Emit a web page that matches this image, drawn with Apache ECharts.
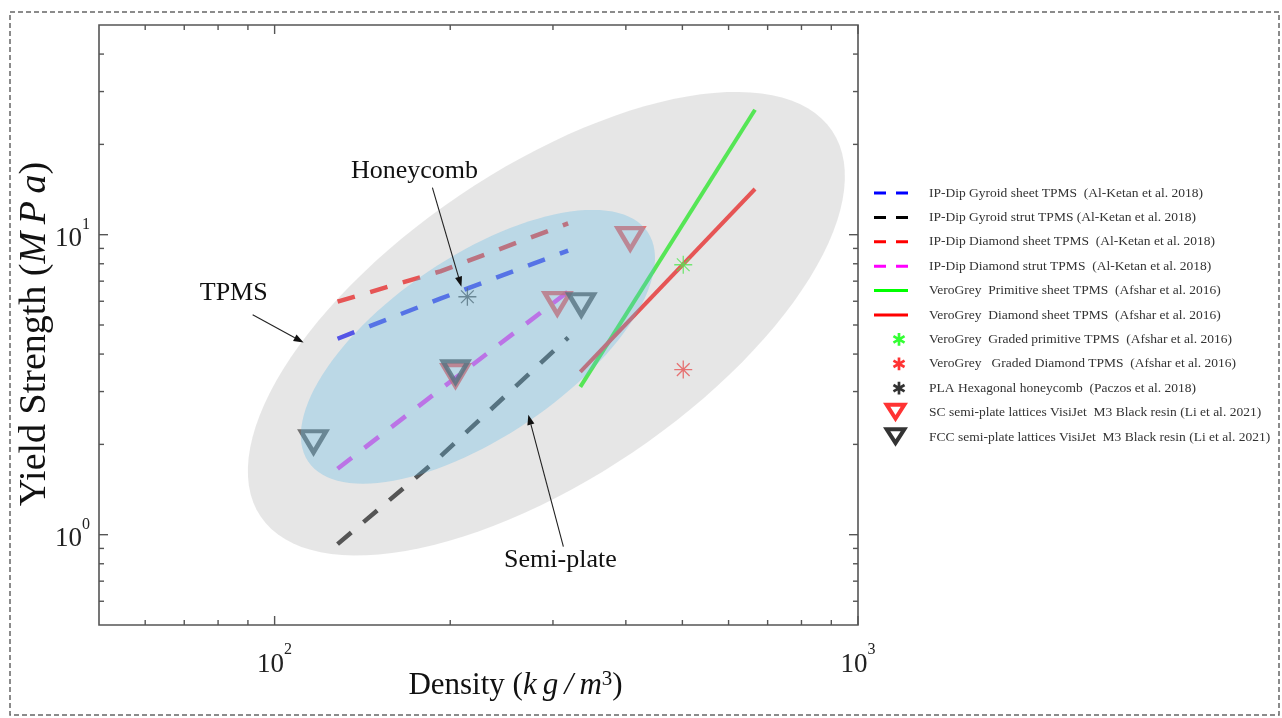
<!DOCTYPE html>
<html>
<head>
<meta charset="utf-8">
<script src="https://cdn.jsdelivr.net/npm/echarts@6/dist/echarts.min.js"></script>
<style>
  html, body { margin: 0; padding: 0; background: #ffffff; }
  #chart { width: 1282px; height: 718px; }
</style>
</head>
<body>
<div id="chart"></div>
<script>
// ---- Axis ticks (log-log) ----
const xMajorTicks = [100, 1000];
const xMinorTicks = [60, 70, 80, 90, 200, 300, 400, 500, 600, 700, 800, 900];
const yMajorTicks = [1, 10];
const yMinorTicks = [0.6, 0.7, 0.8, 0.9, 2, 3, 4, 5, 6, 7, 8, 9, 20, 30, 40];
const xLabelExponents = [2, 3];
const yLabelExponents = [0, 1];

// ---- Series names ----
const seriesNames = [
  'IP-Dip Gyroid sheet TPMS  (Al-Ketan et al. 2018)',
  'IP-Dip Gyroid strut TPMS (Al-Ketan et al. 2018)',
  'IP-Dip Diamond sheet TPMS  (Al-Ketan et al. 2018)',
  'IP-Dip Diamond strut TPMS  (Al-Ketan et al. 2018)',
  'VeroGrey  Primitive sheet TPMS  (Afshar et al. 2016)',
  'VeroGrey  Diamond sheet TPMS  (Afshar et al. 2016)',
  'VeroGrey  Graded primitive TPMS  (Afshar et al. 2016)',
  'VeroGrey   Graded Diamond TPMS  (Afshar et al. 2016)',
  'PLA Hexagonal honeycomb  (Paczos et al. 2018)',
  'SC semi-plate lattices VisiJet  M3 Black resin (Li et al. 2021)',
  'FCC semi-plate lattices VisiJet  M3 Black resin (Li et al. 2021)'
];

// ---- Data: [density kg/m^3, yield strength MPa] ----
const gyroidSheet   = [[128.2, 4.50], [192.3, 6.12], [318.5, 8.85]];
const gyroidStrut   = [[128.2, 0.93], [188.0, 1.75], [318.5, 4.54]];
const diamondSheet  = [[128.2, 5.98], [192.3, 7.55], [318.5, 10.9]];
const diamondStrut  = [[128.2, 1.66], [192.3, 3.05], [318.5, 6.46]];
const primitiveSheetVG = [[334.2, 3.11], [666.0, 26.1]];
const diamondSheetVG   = [[334.2, 3.49], [666.0, 14.2]];
const gradedPrimitive  = [[501.7, 7.94]];
const gradedDiamond    = [[501.7, 3.55]];
const plaHoneycomb     = [[214.0, 6.21]];
const scSemiPlate      = [[204.2, 3.39], [305.2, 5.89], [407.0, 9.70]];
const fccSemiPlate     = [[116.6, 2.04], [204.2, 3.49], [335.5, 5.84]];

// ---- Shaded regions: centre, end of long semi-axis, end of short semi-axis ----
const tpmsRegion      = [292.3, 5.05, 902.7, 22.2, 207.7, 13.54];
const semiPlateRegion = [223.1, 4.23, 436.0, 10.2, 182.9, 7.51];

// ---- Annotations ----
const annotationTexts     = ['Honeycomb', 'TPMS', 'Semi-plate'];
const annotationLabelPos  = [[173.7, 16.34], [85.1, 6.36], [308.9, 0.825]];
const annotationArrowFrom = [[186.4, 14.35], [91.7, 5.41], [312.6, 0.912]];
const annotationArrowTo   = [[209.0, 6.71], [112.1, 4.37], [272.2, 2.51]];

// ---- Styles ----
const FONT = 'Liberation Serif';
const AXIS_COLOR = '#555555';
const DASH = [18, 16];
const REGION_FILLS = ['rgba(197,197,197,0.43)', 'rgba(90,185,228,0.31)'];
const THIN = '\u2009';

// legend icons: every bounding box is 34 x 20 so all rows share one height
const dashIcon  = 'path://M0,-8.5M34,11.5M0,0L12,0L12,3L0,3ZM22,0L34,0L34,3L22,3Z';
const solidIcon = 'path://M0,-8.5M34,11.5M0,0L34,0L34,3L0,3Z';
function starIconPath() {
  let d = 'path://M-25,-10M9,10';
  [90, 30, -30].forEach(deg => {
    const t = deg * Math.PI / 180, dx = Math.cos(t), dy = Math.sin(t), nx = -dy, ny = dx;
    const L = 6.4, W = 1.35;
    const p = [[L * dx + W * nx, L * dy + W * ny], [L * dx - W * nx, L * dy - W * ny],
               [-L * dx - W * nx, -L * dy - W * ny], [-L * dx + W * nx, -L * dy + W * ny]];
    d += 'M' + p.map(q => q[0].toFixed(2) + ',' + q[1].toFixed(2)).join('L') + 'Z';
  });
  return d;
}
function triangleIconPath() {
  // outer triangle clockwise, inner one reversed to leave a hole
  const A = [0, 0], B = [25, 0], C = [12.5, 19.5];
  const ac = Math.hypot(12.5, 19.5);
  const s = (25 + 2 * ac) / 2, r = (25 * 19.5 / 2) / s, I = [12.5, r];
  const k = (r - 4.0) / r;
  const inner = [A, B, C].map(v => [I[0] + k * (v[0] - I[0]), I[1] + k * (v[1] - I[1])]);
  const f = q => q[0].toFixed(2) + ',' + q[1].toFixed(2);
  return 'path://M-9,-0.25M25,19.75M' + f(A) + 'L' + f(B) + 'L' + f(C) + 'Z' +
         'M' + f(inner[0]) + 'L' + f(inner[2]) + 'L' + f(inner[1]) + 'Z';
}
const starLegend = starIconPath();
const triLegend = triangleIconPath();
const triPlot   = 'path://M0,0L26,0L13,22Z';
const starPlot  = 'path://M0,-10L0,10M-10,0L10,0M-7.07,-7.07L7.07,7.07M-7.07,7.07L7.07,-7.07';

function lineSeries(name, data, color, dashed) {
  return {
    type: 'line', name, data, symbol: 'none', z: 2, silent: true,
    color,
    lineStyle: { color, width: dashed ? 4.5 : 4, type: dashed ? DASH : 'solid', cap: 'butt' }
  };
}
function starSeries(name, data, color) {
  return {
    type: 'scatter', name, data, z: 2, silent: true, color,
    symbol: starPlot, symbolSize: 18,
    itemStyle: { color, borderColor: color, borderWidth: 1.3 }
  };
}
function triangleSeries(name, data, color) {
  return {
    type: 'scatter', name, data, z: 2, silent: true, color,
    symbol: triPlot, symbolSize: [25, 21],
    itemStyle: { color: 'rgba(0,0,0,0)', borderColor: color, borderWidth: 4.5 }
  };
}

const colors = ['#0000ff', '#000000', '#ff0000', '#ff00ff', '#00ff00', '#ff0000',
                '#00ff00', '#ff0000', '#000000', '#ff0000', '#000000'];

const dataSeries = [
  lineSeries(seriesNames[0], gyroidSheet, colors[0], true),
  lineSeries(seriesNames[1], gyroidStrut, colors[1], true),
  lineSeries(seriesNames[2], diamondSheet, colors[2], true),
  lineSeries(seriesNames[3], diamondStrut, colors[3], true),
  lineSeries(seriesNames[4], primitiveSheetVG, colors[4], false),
  lineSeries(seriesNames[5], diamondSheetVG, colors[5], false),
  starSeries(seriesNames[6], gradedPrimitive, colors[6]),
  starSeries(seriesNames[7], gradedDiamond, colors[7]),
  starSeries(seriesNames[8], plaHoneycomb, colors[8]),
  triangleSeries(seriesNames[9], scSemiPlate, colors[9]),
  triangleSeries(seriesNames[10], fccSemiPlate, colors[10])
];

const legendData = seriesNames.map((name, i) => {
  const icon = i < 4 ? dashIcon : i < 6 ? solidIcon : i < 9 ? starLegend : triLegend;
  return { name, icon, itemStyle: { color: colors[i], borderWidth: 0 } };
});

function isPow10(v, exps) {
  const e = Math.log10(v);
  const r = Math.round(e);
  return Math.abs(e - r) < 1e-6 && exps.indexOf(r) >= 0 ? r : null;
}
const tickLabelRich = {
  b: { fontFamily: FONT, fontSize: 27, lineHeight: 36, verticalAlign: 'bottom', color: '#222' },
  sup: { fontFamily: FONT, fontSize: 16, lineHeight: 16, verticalAlign: 'top', color: '#222' }
};

// region ellipses, projected through the axes
function renderRegion(params, api) {
  const c = api.coord([api.value(0), api.value(1)]);
  const m = api.coord([api.value(2), api.value(3)]);
  const n = api.coord([api.value(4), api.value(5)]);
  const u = [m[0] - c[0], m[1] - c[1]];
  const v = [n[0] - c[0], n[1] - c[1]];
  const pts = [];
  for (let k = 0; k < 120; k++) {
    const t = k / 120 * Math.PI * 2;
    const ct = Math.cos(t), st = Math.sin(t);
    pts.push([c[0] + u[0] * ct + v[0] * st, c[1] + u[1] * ct + v[1] * st]);
  }
  return { type: 'polygon', shape: { points: pts }, style: { fill: REGION_FILLS[params.dataIndex] } };
}

// box ticks on all four sides, pointing inward
function renderTicks(params, api) {
  const cs = params.coordSys;
  const L = cs.x, T = cs.y, R = cs.x + cs.width, B = cs.y + cs.height;
  const kids = [];
  const seg = (x1, y1, x2, y2) => kids.push({ type: 'line', shape: { x1, y1, x2, y2 }, style: { stroke: AXIS_COLOR, lineWidth: 1.4 } });
  const xt = (val, len) => { const x = api.coord([val, 1])[0]; seg(x, B, x, B - len); seg(x, T, x, T + len); };
  const yt = (val, len) => { const y = api.coord([100, val])[1]; seg(L, y, L + len, y); seg(R, y, R - len, y); };
  xMajorTicks.forEach(v => xt(v, 9));
  xMinorTicks.forEach(v => xt(v, 5));
  yMajorTicks.forEach(v => yt(v, 9));
  yMinorTicks.forEach(v => yt(v, 5));
  return { type: 'group', children: kids };
}

// text labels with arrows
function renderAnnotation(params, api) {
  const i = params.dataIndex;
  const p = api.coord(annotationLabelPos[i]);
  const a = api.coord(annotationArrowFrom[i]);
  const b = api.coord(annotationArrowTo[i]);
  const dx = b[0] - a[0], dy = b[1] - a[1];
  const len = Math.hypot(dx, dy), ux = dx / len, uy = dy / len;
  const hl = 10, hw = 3.6;
  const base = [b[0] - ux * hl, b[1] - uy * hl];
  return {
    type: 'group',
    children: [
      { type: 'text', style: { text: annotationTexts[i], x: p[0], y: p[1], fill: '#111', fontSize: 26, fontFamily: FONT, align: 'center', verticalAlign: 'middle' } },
      { type: 'line', shape: { x1: a[0], y1: a[1], x2: base[0], y2: base[1] }, style: { stroke: '#222', lineWidth: 1.1 } },
      { type: 'polygon', shape: { points: [b, [base[0] - uy * hw, base[1] + ux * hw], [base[0] + uy * hw, base[1] - ux * hw]] }, style: { fill: '#111' } }
    ]
  };
}

const option = {
  animation: false,
  backgroundColor: '#ffffff',
  graphic: [{
    type: 'rect', silent: true, z: -10,
    shape: { x: 10, y: 12, width: 1269, height: 703 },
    style: { fill: 'none', stroke: '#666', lineWidth: 1.5, lineDash: [5, 3] }
  }],
  grid: {
    left: 99, top: 25, width: 759, height: 600,
    outerBoundsMode: 'none', containLabel: false,
    show: true, borderColor: AXIS_COLOR, borderWidth: 1.6, backgroundColor: 'transparent'
  },
  legend: {
    orient: 'vertical', left: 874, top: 183, padding: 0,
    itemWidth: 34, itemHeight: 20, itemGap: 4.4,
    selectedMode: false,
    textStyle: { fontFamily: FONT, fontSize: 13.5, color: '#333', padding: [0, 0, 0, 16] },
    data: legendData
  },
  xAxis: {
    type: 'log', logBase: 10, min: 50, max: 1000,
    axisLine: { show: false }, axisTick: { show: false }, splitLine: { show: false }, minorTick: { show: false },
    axisLabel: {
      margin: 17, showMinLabel: true, showMaxLabel: true,
      formatter: v => { const r = isPow10(v, xLabelExponents); return r === null ? '' : '{b|10}{sup|' + r + '}'; },
      rich: tickLabelRich
    },
    name: 'Density ({it|k' + THIN + 'g' + THIN + '/' + THIN + 'm}{sup|3})', nameLocation: 'middle', nameGap: 44,
    nameMoveOverlap: false,
    nameTextStyle: {
      fontFamily: FONT, fontSize: 31, lineHeight: 34, color: '#111', padding: [0, 0, 0, 74],
      rich: {
        it: { fontFamily: FONT, fontStyle: 'italic', fontSize: 31, lineHeight: 34, color: '#111' },
        sup: { fontFamily: FONT, fontSize: 21, lineHeight: 21, verticalAlign: 'top', color: '#111' }
      }
    }
  },
  yAxis: {
    type: 'log', logBase: 10, min: 0.5, max: 50,
    axisLine: { show: false }, axisTick: { show: false }, splitLine: { show: false }, minorTick: { show: false },
    axisLabel: {
      margin: 9, showMinLabel: true, showMaxLabel: true,
      formatter: v => { const r = isPow10(v, yLabelExponents); return r === null ? '' : '{b|10}{sup|' + r + '}'; },
      rich: tickLabelRich
    },
    name: 'Yield Strength ({it|M' + THIN + 'P' + THIN + 'a})', nameLocation: 'middle', nameGap: 44,
    nameMoveOverlap: false,
    nameTextStyle: {
      fontFamily: FONT, fontSize: 38, lineHeight: 40, color: '#111', padding: [0, 18, 0, 0],
      rich: {
        it: { fontFamily: FONT, fontStyle: 'italic', fontSize: 38, lineHeight: 40, color: '#111' }
      }
    }
  },
  series: [
    ...dataSeries,
    { type: 'custom', name: 'regions', silent: true, z: 3, data: [tpmsRegion, semiPlateRegion],
      encode: { x: [0, 2, 4], y: [1, 3, 5] }, renderItem: renderRegion },
    { type: 'custom', name: 'ticks', silent: true, z: 5, data: [[100, 1]], renderItem: renderTicks },
    { type: 'custom', name: 'annotations', silent: true, z: 6, data: annotationLabelPos, renderItem: renderAnnotation }
  ]
};

const chart = echarts.init(document.getElementById('chart'));
chart.setOption(option);
</script>
</body>
</html>
